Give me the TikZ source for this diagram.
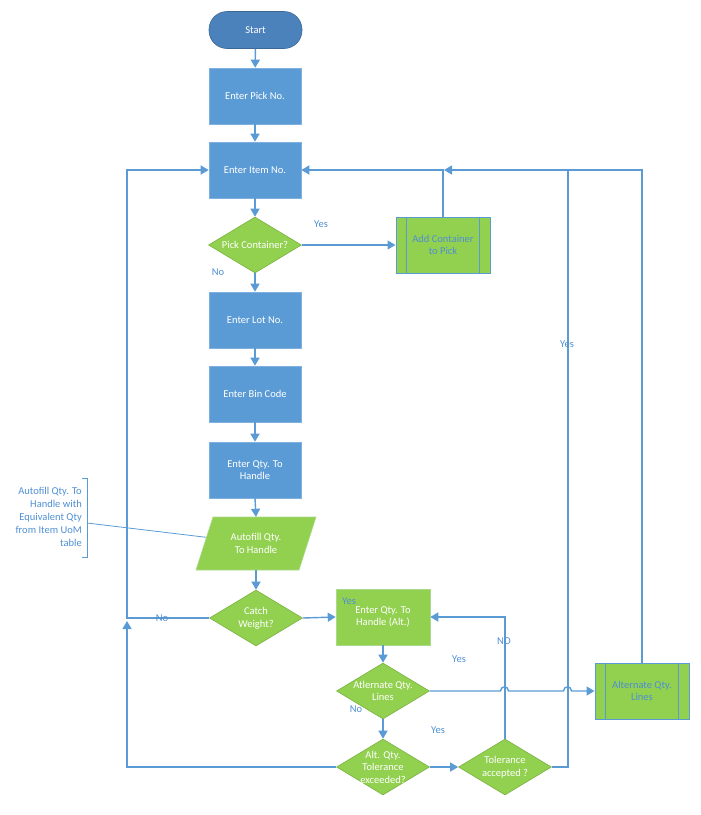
\documentclass[tikz,border=0pt]{standalone}
\usepackage{fontspec}
\setmainfont{Carlito}
\usetikzlibrary{shapes.geometric,arrows.meta}
\definecolor{boxblue}{HTML}{5B9BD5}
\definecolor{boxedge}{HTML}{7FB1E0}
\definecolor{startblue}{HTML}{4C82BC}
\definecolor{grn}{HTML}{92D050}
\definecolor{grnedge}{HTML}{A9D98A}
\definecolor{lineblue}{HTML}{5B9BD5}
\definecolor{lbl}{HTML}{4F8FD3}
\begin{document}
\begin{tikzpicture}[x=1pt,y=-1pt,
  font=\fontsize{10.5}{12.6}\selectfont,
  startbox/.style={rectangle, rounded corners=18pt, fill=startblue, draw=startblue!80!black, line width=0.6pt, text=white, minimum width=93pt, minimum height=37pt},
  proc/.style={rectangle, fill=boxblue, draw=boxedge, line width=0.6pt, text=white, minimum width=92pt, minimum height=56pt, align=center, inner sep=1pt},
  gproc/.style={rectangle, fill=grn, draw=grnedge, line width=0.6pt, text=white, minimum width=94pt, minimum height=56pt, align=center, inner sep=1pt},
  dec/.style={diamond, fill=grn, draw=grn!85!black, line width=0.6pt, inner sep=0pt, minimum width=93pt, minimum height=56pt},
  dtext/.style={text=white, align=center, inner sep=0pt},
  subbox/.style={rectangle, fill=grn, draw=lineblue, line width=1pt, text=lbl, minimum width=94pt, minimum height=56pt, align=center, inner sep=1pt},
  conn/.style={draw=lineblue, line width=1.4pt, -{Triangle[length=8pt,width=9pt]}},
  plain/.style={draw=lineblue, line width=1.4pt},
  thinline/.style={draw=lineblue, line width=0.8pt},
  lab/.style={text=lbl, inner sep=0pt}
]
\useasboundingbox (0,0) rectangle (701,815);

% nodes
\node[startbox] (start) at (255.5,30) {Start};
\node[proc] (pick) at (255,96) {Enter Pick No.};
\node[proc] (item) at (255,170) {Enter Item No.};
\node[dec] (pc) at (255,245) {};
\node[dtext] (pct) at (pc) {Pick Container?};
\node[subbox] (add) at (443,245) {Add Container\\to Pick};
\draw[lineblue, line width=1pt] ([xshift=11pt]add.north west) -- ([xshift=11pt]add.south west)
  ([xshift=-11pt]add.north east) -- ([xshift=-11pt]add.south east);
\node[proc] (lot) at (255,320) {Enter Lot No.};
\node[proc] (bin) at (255,394) {Enter Bin Code};
\node[proc] (qty) at (255,470) {Enter Qty. To\\Handle};

% annotation
\node[lab, anchor=east, align=right, font=\fontsize{10.5}{13}\selectfont] (note) at (82,517)
  {Autofill Qty. To\\Handle with\\Equivalent Qty\\from Item UoM\\table};
\coordinate (brk) at (87,523);
\coordinate (pedge) at (212,538);
\draw[thinline] (82,478) -- (87,478) -- (87,557) -- (82,557);
\draw[thinline] (brk) -- (pedge);

% parallelogram
\fill[grn] (213,517) -- (316,517) -- (299,570) -- (196,570) -- cycle;
\draw[grnedge, line width=0.6pt] (213,517) -- (316,517) -- (299,570) -- (196,570) -- cycle;
\node[inner sep=0pt, minimum width=100pt, minimum height=53pt, text=white, align=center] (af) at (256,543.5) {Autofill Qty.\\To Handle};

\node[dec] (cw) at (256,618) {};
\node[dtext] (cwt) at (cw) {Catch\\Weight?};
\node[gproc] (alt) at (383,617) {Enter Qty. To\\Handle (Alt.)};
\node[lab] (yes3) at (349,601) {Yes};
\node[dec] (al) at (383,691) {};
\node[dtext] (alt2) at (al) {Atlernate Qty.\\Lines};
\node[dec] (te) at (383,767) {};
\node[dtext] (tet) at (te) {Alt. Qty.\\Tolerance\\exceeded?};
\node[dec] (ta) at (505,767) {};
\node[dtext] (tat) at (ta) {Tolerance\\accepted ?};
\node[subbox] (aql) at (642,691) {Alternate Qty.\\Lines};
\draw[lineblue, line width=1pt] ([xshift=11pt]aql.north west) -- ([xshift=11pt]aql.south west)
  ([xshift=-11pt]aql.north east) -- ([xshift=-11pt]aql.south east);

% coordinates
\coordinate (j1) at (127,621);
\coordinate (j2) at (444,170);

% connectors
\draw[conn] (start) -- (pick);
\draw[conn] (pick) -- (item);
\draw[conn] (item) -- (pc);
\draw[conn] (pc.east) -- (add.west);
\draw[conn] (add.north) |- (item.east);
\draw[conn] (pc.south) -- (lot.north);
\draw[conn] (lot) -- (bin);
\draw[conn] (bin) -- (qty);
\draw[conn] (qty.south) -- (af.north);
\draw[conn] (af.south) -- (cw.north);
\draw[conn] (cw.west) -- (127,618) |- (item.west);
\draw[conn] (te.west) -| (j1);
\draw[conn] (cw.east) -- (alt.west);
\draw[conn] (alt.south) -- (al.north);
\draw[conn] (al.south) -- (te.north);
\draw[conn] (te.east) -- (ta.west);
\draw[conn] (ta.north) |- (alt.east);
\draw[plain] (ta.east) -- (568,767) -- (568,170);
\draw[conn] (aql.north) |- (j2);
\draw[conn] (al.east) -- (500.5,691) .. controls (500.5,685.5) and (508.5,685.5) .. (508.5,691)
  -- (563.5,691) .. controls (563.5,685.5) and (571.5,685.5) .. (571.5,691) -- (aql.west);

% labels
\node[lab] (yes1) at (321,224) {Yes};
\node[lab] (no1) at (218,272) {No};
\node[lab] (no2) at (162,618) {No};
\node[lab] (no3) at (356,709) {No};
\node[lab] (yes4) at (438,730) {Yes};
\node[lab] (yes5) at (459,659) {Yes};
\node[lab] (no4) at (504,641) {NO};
\node[lab] (yes2) at (567,344) {Yes};
\end{tikzpicture}
\end{document}
